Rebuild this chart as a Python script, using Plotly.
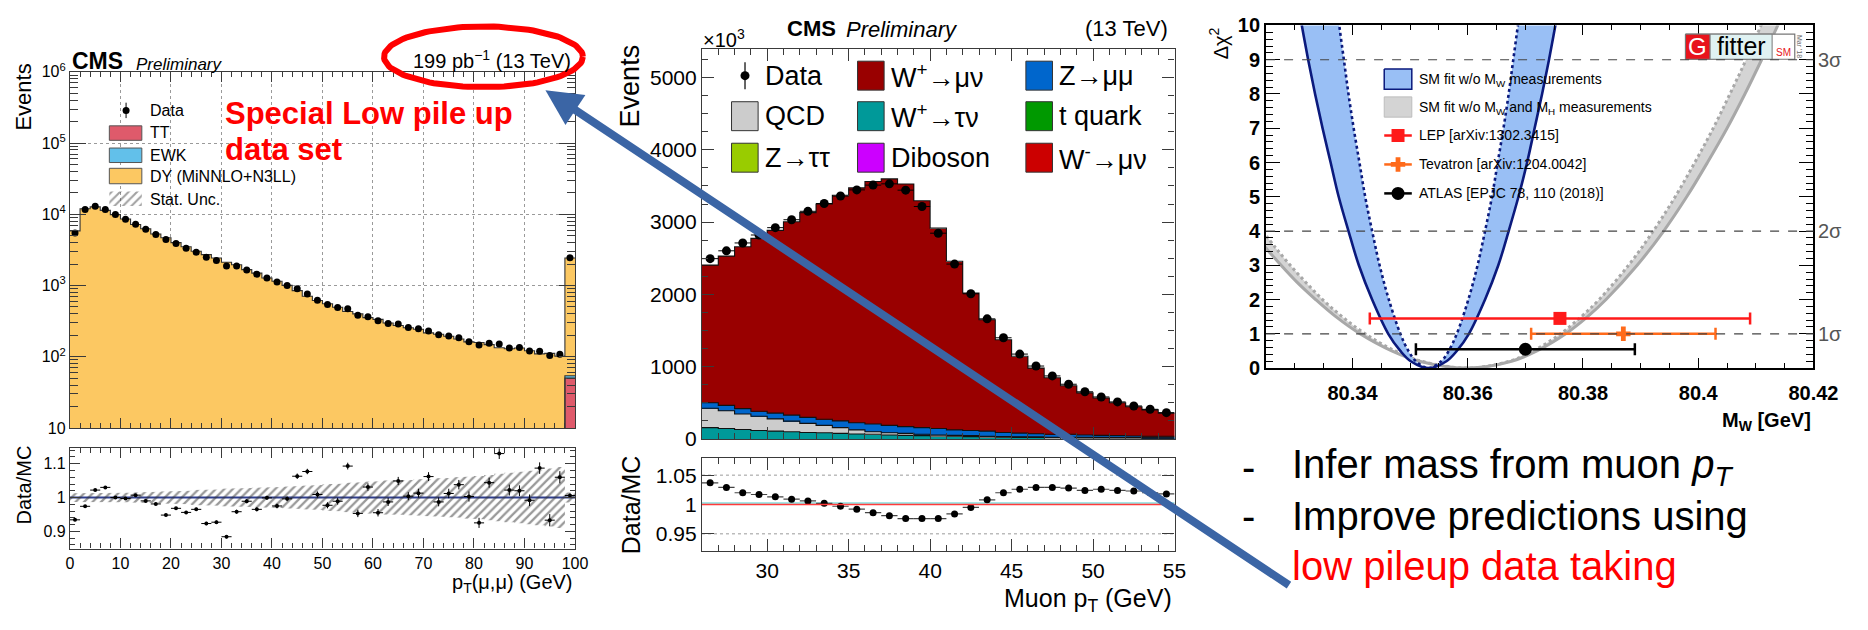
import math
import plotly.graph_objects as go

W, H = 1868, 630
FONT = "Liberation Sans, Arial, Helvetica, sans-serif"


def px(x):
    return x / W


def py(y):
    return 1 - y / H


# ---------------- Z -> mumu pT, low pile-up run ----------------
zpt_centers = list(range(1, 100, 2))
zpt_data = [5460, 11660, 12950, 11660, 9890, 8540, 7230, 6180, 5180, 4430,
            3870, 3340, 2920, 2500, 2250, 1870, 1870, 1650, 1440, 1270,
            1120, 1000, 900, 760, 620, 540, 490, 470, 381, 365,
            319, 293, 288, 256, 246, 229, 204, 196, 184, 162,
            146, 154, 151, 132, 135, 120, 119, 104, 108, 2450]
zpt_ratio = [0.934, 0.974, 1.022, 1.030, 1.000, 0.997, 1.007, 0.990, 0.981, 0.948,
             0.968, 0.956, 0.965, 0.923, 0.927, 0.884, 0.958, 0.989, 0.965, 0.999,
             0.975, 0.996, 1.063, 1.077, 1.009, 0.977, 0.989, 1.093, 0.953, 1.031,
             0.955, 0.987, 1.049, 1.004, 1.013, 1.062, 0.987, 1.012, 1.038, 1.003,
             0.925, 1.044, 1.130, 1.022, 1.020, 0.992, 1.087, 0.933, 1.060, 1.006]
zpt_ratio_err = [0.004, 0.003, 0.003, 0.003, 0.003, 0.003, 0.003, 0.004, 0.004, 0.004,
                 0.004, 0.004, 0.005, 0.005, 0.005, 0.005, 0.006, 0.006, 0.006, 0.006,
                 0.007, 0.007, 0.008, 0.008, 0.009, 0.009, 0.010, 0.010, 0.011, 0.011,
                 0.011, 0.012, 0.012, 0.012, 0.013, 0.013, 0.013, 0.014, 0.014, 0.015,
                 0.015, 0.015, 0.016, 0.016, 0.016, 0.017, 0.017, 0.018, 0.018, 0.006]
zpt_stat_unc = [0.013, 0.012, 0.012, 0.012, 0.013, 0.014, 0.015, 0.016, 0.017, 0.018,
                0.019, 0.020, 0.022, 0.023, 0.024, 0.026, 0.027, 0.028, 0.029, 0.030,
                0.031, 0.032, 0.034, 0.035, 0.037, 0.039, 0.041, 0.043, 0.045, 0.047,
                0.048, 0.050, 0.051, 0.052, 0.054, 0.055, 0.057, 0.058, 0.060, 0.062,
                0.064, 0.067, 0.070, 0.073, 0.076, 0.079, 0.082, 0.086, 0.090, 0.015]
zpt_tt = [0.5, 0.8, 1.0, 1.2, 1.4, 1.5, 1.6, 1.7, 1.8, 1.9,
          2.0, 2.0, 2.1, 2.1, 2.2, 2.2, 2.2, 2.3, 2.3, 2.3,
          2.3, 2.3, 2.3, 2.3, 2.3, 2.3, 2.2, 2.2, 2.2, 2.2,
          2.1, 2.1, 2.1, 2.0, 2.0, 2.0, 1.9, 1.9, 1.9, 1.8,
          1.8, 1.8, 1.7, 1.7, 1.7, 1.6, 1.6, 1.6, 1.5, 50.0]
zpt_ewk = [3.0, 3.5, 3.8, 3.6, 3.4, 3.2, 3.0, 2.8, 2.7, 2.6,
           2.4, 2.3, 2.2, 2.1, 2.0, 1.9, 1.8, 1.7, 1.6, 1.6,
           1.5, 1.4, 1.4, 1.3, 1.3, 1.2, 1.2, 1.1, 1.1, 1.0,
           1.0, 1.0, 0.9, 0.9, 0.9, 0.8, 0.8, 0.8, 0.7, 0.7,
           0.7, 0.7, 0.6, 0.6, 0.6, 0.6, 0.5, 0.5, 0.5, 4.0]
zpt_xticks = [0, 10, 20, 30, 40, 50, 60, 70, 80, 90, 100]

# ---------------- W+ -> mu nu, muon pT ----------------
mupt_centers = [26.5 + i for i in range(29)]
wplus_munu = [1905, 2065, 2239, 2390, 2528, 2675, 2831, 2977, 3120, 3250,
              3355, 3409, 3356, 3137, 2772, 2332, 1901, 1540, 1282, 1063,
              908, 783, 672, 582, 516, 454, 405, 365, 320]
z_mumu = [76, 75, 75, 71, 80, 84, 84, 85, 93, 97,
          107, 102, 93, 93, 89, 76, 71, 71, 58, 53,
          44, 40, 40, 32, 29, 26, 22, 20, 21]
qcd = [267, 245, 214, 196, 169, 147, 125, 102, 80, 58,
       35, 31, 27, 18, 14, 13, 14, 9, 8, 6,
       9, 7, 8, 8, 7, 7, 7, 6, 6]
wplus_taunu = [149, 136, 123, 110, 101, 92, 84, 80, 71, 62,
               58, 49, 45, 41, 36, 32, 27, 23, 19, 18,
               15, 13, 12, 11, 10, 9, 8, 7, 6]
wminus_munu = [1, 1, 1, 1, 1, 1, 1, 1, 1, 1,
               1, 1, 1, 1, 1, 1, 1, 1, 1, 1,
               1, 1, 1, 1, 1, 1, 1, 1, 1]
ztautau = [4, 4, 3, 3, 3, 3, 2, 2, 2, 2,
           2, 2, 1, 1, 1, 1, 1, 1, 1, 1,
           1, 1, 1, 1, 1, 1, 1, 1, 1]
tquark = [3, 3, 3, 3, 3, 3, 3, 3, 3, 3,
          3, 3, 3, 3, 3, 3, 3, 3, 3, 2,
          2, 2, 2, 2, 2, 2, 2, 2, 2]
diboson = [1, 1, 1, 1, 1, 1, 1, 1, 1, 1,
           1, 1, 1, 1, 1, 1, 1, 1, 1, 1,
           1, 1, 1, 1, 1, 1, 1, 1, 1]
mupt_ratio = [1.037, 1.029, 1.020, 1.017, 1.013, 1.009, 1.006, 1.002, 0.997, 0.992,
              0.986, 0.981, 0.976, 0.976, 0.976, 0.984, 0.995, 1.008, 1.020, 1.026,
              1.029, 1.029, 1.028, 1.024, 1.026, 1.024, 1.023, 1.020, 1.018]
mupt_yticks = [0, 1000, 2000, 3000, 4000, 5000]
mupt_xticks = [30, 35, 40, 45, 50, 55]
mupt_ratio_grid = [0.95, 1.05]

# ---------------- Gfitter: delta chi2 vs MW ----------------
blue_solid_d = [11, 10, 9, 8, 7, 6, 5, 4, 3, 2, 1, 0.5, 0.2, 0,
                0.2, 0.5, 1, 2, 3, 4, 5, 6, 7, 8, 9, 10, 11]
blue_solid_m = [80.3301, 80.3312, 80.3323, 80.3335, 80.3348, 80.3362, 80.3376, 80.3393,
                80.3411, 80.3434, 80.3462, 80.3483, 80.3501, 80.3532,
                80.3563, 80.3581, 80.3602, 80.3630, 80.3653, 80.3671, 80.3688,
                80.3703, 80.3716, 80.3729, 80.3741, 80.3752, 80.3763]
blue_dot_d = blue_solid_d
blue_dot_m = [80.3370, 80.3377, 80.3385, 80.3393, 80.3402, 80.3412, 80.3422, 80.3434,
              80.3447, 80.3463, 80.3483, 80.3497, 80.3510, 80.3532,
              80.3554, 80.3567, 80.3581, 80.3601, 80.3617, 80.3630, 80.3642,
              80.3652, 80.3662, 80.3671, 80.3679, 80.3687, 80.3695]
gray_solid_d = [4, 3.5, 3, 2.5, 2, 1.5, 1, 0.5, 0.2, 0,
                0.2, 0.5, 1, 1.5, 2, 3, 4, 5, 6, 7, 8, 9, 10, 11]
gray_solid_m = [80.3226, 80.3250, 80.3276, 80.3304, 80.3336, 80.3371, 80.3413, 80.3468,
                80.3516, 80.3600, 80.3676, 80.3720, 80.3770, 80.3808, 80.3840,
                80.3894, 80.3940, 80.3980, 80.4016, 80.4050, 80.4081, 80.4110,
                80.4138, 80.4164]
gray_dot_d = gray_solid_d
gray_dot_m = [80.3244, 80.3267, 80.3292, 80.3319, 80.3348, 80.3382, 80.3422, 80.3474,
              80.3520, 80.3600, 80.3672, 80.3714, 80.3761, 80.3797, 80.3828,
              80.3879, 80.3922, 80.3960, 80.3994, 80.4026, 80.4055, 80.4083,
              80.4109, 80.4134]
meas_names = ["LEP [arXiv:1302.3415]", "Tevatron [arXiv:1204.0042]",
              "ATLAS [EPJC 78, 110 (2018)]"]
meas_mw = [80.376, 80.387, 80.370]
meas_err = [0.033, 0.016, 0.019]
sigma_levels = [1, 4, 9]
sigma_labels = ["1σ", "2σ", "3σ"]
mw_ticks = [80.34, 80.36, 80.38, 80.40, 80.42]
mw_ticktext = ["80.34", "80.36", "80.38", "80.4", "80.42"]

# ---------------- colours ----------------
C_DY, C_TT, C_EWK = "#fcc862", "#df5a6b", "#62c0ea"
C_WMU, C_ZMUMU, C_QCD, C_WTAU = "#990000", "#0066cc", "#cccccc", "#009999"
C_TQ, C_ZTT, C_VV, C_WMINUS = "#009900", "#99cc00", "#cc00ff", "#cc0000"
C_BLUEFILL, C_NAVY = "#99bff5", "#0b1a7d"
C_GRAYFILL, C_GRAYLINE = "#d4d4d4", "#a8a8a8"
AXC = "#3a3a3a"

fig = go.Figure()


def steps(centers, vals, width):
    xs = [c - width / 2 for c in centers] + [centers[-1] + width / 2]
    ys = list(vals) + [vals[-1]]
    return xs, ys


# ---- left: stacked Z pT histogram ----
zpt_mc = [d / r for d, r in zip(zpt_data, zpt_ratio)]
zpt_dy = [m - t - e for m, t, e in zip(zpt_mc, zpt_tt, zpt_ewk)]
for vals, col in [(zpt_tt, C_TT), (zpt_ewk, C_EWK), (zpt_dy, C_DY)]:
    fig.add_trace(go.Bar(x=zpt_centers, y=vals, width=2, marker=dict(color=col, line=dict(width=0)),
                         xaxis="x", yaxis="y", hoverinfo="skip"))
zpt_low = [t + e for t, e in zip(zpt_tt, zpt_ewk)]
for lvl in (zpt_tt, zpt_low, zpt_mc):
    sx, sy = steps(zpt_centers, lvl, 2)
    fig.add_trace(go.Scatter(x=sx, y=sy, mode="lines", line=dict(color="#333", width=1.1, shape="hv"),
                             xaxis="x", yaxis="y", hoverinfo="skip"))
fig.add_trace(go.Scatter(
    x=zpt_centers, y=zpt_data, mode="markers", xaxis="x", yaxis="y",
    marker=dict(color="black", size=7),
    error_y=dict(type="data", array=[e * m for e, m in zip(zpt_ratio_err, zpt_mc)],
                 color="black", thickness=1, width=0)))

# ---- left: ratio ----
bx, by = [], []
for c, u in zip(zpt_centers, zpt_stat_unc):
    bx += [c - 1, c + 1]
    by += [1 + u, 1 + u]
lx, ly = [], []
for c, u in zip(reversed(zpt_centers), reversed(zpt_stat_unc)):
    lx += [c + 1, c - 1]
    ly += [1 - u, 1 - u]
fig.add_trace(go.Scatter(
    x=bx + lx, y=by + ly, mode="lines", fill="toself", line=dict(width=0),
    fillcolor="rgba(0,0,0,0)",
    fillpattern=dict(shape="/", fgcolor="#333333", bgcolor="rgba(0,0,0,0)", size=6, solidity=0.38),
    xaxis="x2", yaxis="y2", hoverinfo="skip"))
fig.add_shape(type="line", xref="x2 domain", yref="y2", x0=0, x1=1, y0=1, y1=1,
              line=dict(color="#2f3e8f", width=2), layer="below")
fig.add_trace(go.Scatter(
    x=zpt_centers, y=zpt_ratio, mode="markers", xaxis="x2", yaxis="y2",
    marker=dict(color="black", size=4),
    error_x=dict(type="constant", value=1, color="black", thickness=1, width=0),
    error_y=dict(type="data", array=zpt_ratio_err, color="black", thickness=1, width=0)))

# ---- middle: stacked muon pT histogram ----
stack = [(diboson, C_VV), (tquark, C_TQ), (ztautau, C_ZTT), (wminus_munu, C_WMINUS),
         (wplus_taunu, C_WTAU), (qcd, C_QCD), (z_mumu, C_ZMUMU), (wplus_munu, C_WMU)]
cum = [0] * len(mupt_centers)
levels = []
for vals, col in stack:
    fig.add_trace(go.Bar(x=mupt_centers, y=vals, width=1, marker=dict(color=col, line=dict(width=0)),
                         xaxis="x3", yaxis="y3", hoverinfo="skip"))
    cum = [a + b for a, b in zip(cum, vals)]
    levels.append(cum)
mupt_total = levels[-1]
for lvl in levels[4:]:
    sx, sy = steps(mupt_centers, lvl, 1)
    fig.add_trace(go.Scatter(x=sx, y=sy, mode="lines", line=dict(color="#111", width=1.1, shape="hv"),
                             xaxis="x3", yaxis="y3", hoverinfo="skip"))
mupt_data = [t * r for t, r in zip(mupt_total, mupt_ratio)]
fig.add_trace(go.Scatter(
    x=mupt_centers, y=mupt_data, mode="markers", xaxis="x3", yaxis="y3",
    marker=dict(color="black", size=9),
    error_x=dict(type="constant", value=0.5, color="black", thickness=1, width=0)))

# ---- middle: ratio ----
for g in mupt_ratio_grid:
    fig.add_shape(type="line", xref="x4 domain", yref="y4", x0=0, x1=1, y0=g, y1=g,
                  line=dict(color="#9a9a9a", width=1, dash="dot"), layer="below")
fig.add_shape(type="line", xref="x4 domain", yref="y4", x0=0, x1=1, y0=1.0025, y1=1.0025,
              line=dict(color="#44cccc", width=1), layer="below")
fig.add_shape(type="line", xref="x4 domain", yref="y4", x0=0, x1=1, y0=1, y1=1,
              line=dict(color="#ff3b3b", width=1.6), layer="above")
fig.add_trace(go.Scatter(
    x=mupt_centers, y=mupt_ratio, mode="markers", xaxis="x4", yaxis="y4",
    marker=dict(color="black", size=7),
    error_x=dict(type="constant", value=0.5, color="#444", thickness=1.2, width=0)))

# ---- right: Gfitter scan ----
fig.add_trace(go.Scatter(
    x=gray_solid_m + gray_dot_m[::-1], y=gray_solid_d + gray_dot_d[::-1],
    mode="lines", fill="toself", fillcolor=C_GRAYFILL, line=dict(width=0, shape="spline"),
    xaxis="x5", yaxis="y5", hoverinfo="skip"))
fig.add_trace(go.Scatter(x=gray_dot_m, y=gray_dot_d, mode="lines",
                         line=dict(color=C_GRAYLINE, width=3, dash="dot", shape="spline"),
                         xaxis="x5", yaxis="y5", hoverinfo="skip"))
fig.add_trace(go.Scatter(x=gray_solid_m, y=gray_solid_d, mode="lines",
                         line=dict(color=C_GRAYLINE, width=3, shape="spline"),
                         xaxis="x5", yaxis="y5", hoverinfo="skip"))
fig.add_trace(go.Scatter(
    x=blue_solid_m + blue_dot_m[::-1], y=blue_solid_d + blue_dot_d[::-1],
    mode="lines", fill="toself", fillcolor=C_BLUEFILL, line=dict(width=0, shape="spline"),
    xaxis="x5", yaxis="y5", hoverinfo="skip"))
fig.add_trace(go.Scatter(x=blue_dot_m, y=blue_dot_d, mode="lines",
                         line=dict(color=C_NAVY, width=2.6, dash="dot", shape="spline"),
                         xaxis="x5", yaxis="y5", hoverinfo="skip"))
fig.add_trace(go.Scatter(x=blue_solid_m, y=blue_solid_d, mode="lines",
                         line=dict(color=C_NAVY, width=2.6, shape="spline"),
                         xaxis="x5", yaxis="y5", hoverinfo="skip"))
for lvl in sigma_levels:
    fig.add_shape(type="line", xref="x5 domain", yref="y5", x0=0, x1=1, y0=lvl, y1=lvl,
                  line=dict(color="#444", width=1.2, dash="dash"), layer="above")

meas_style = [dict(color="#ff1a1a", symbol="square", size=13, row=1.45),
              dict(color="#ff6a1a", symbol="cross", size=12, row=1.0),
              dict(color="black", symbol="circle", size=13, row=0.55)]
for mw, err, st in zip(meas_mw, meas_err, meas_style):
    fig.add_trace(go.Scatter(
        x=[mw], y=[st["row"]], mode="markers", xaxis="x5", yaxis="y5",
        marker=dict(color=st["color"], symbol=st["symbol"], size=st["size"]),
        error_x=dict(type="constant", value=err, color=st["color"], thickness=2.5, width=6)))


# ---- pixel-space overlay for legend glyphs, boxes and the highlight ellipse ----
def pix(x, y, **kw):
    fig.add_trace(go.Scatter(x=x, y=y, xaxis="x6", yaxis="y6", hoverinfo="skip", **kw))


def box(x0, y0, x1, y1, fill, line_color=None, lw=1.0):
    pix([x0, x1, x1, x0, x0], [y0, y0, y1, y1, y0], mode="lines", fill="toself",
        fillcolor=fill, line=dict(color=line_color or fill, width=lw if line_color else 0))


pix([124], [103], mode="markers", marker=dict(color="black", size=7),
    error_y=dict(type="constant", value=8, color="black", thickness=1, width=0))
pix([107, 140, 140, 107, 107], [187, 187, 202, 202, 187], mode="lines", fill="toself",
    line=dict(width=0), fillcolor="rgba(0,0,0,0)",
    fillpattern=dict(shape="/", fgcolor="#444", bgcolor="rgba(0,0,0,0)", size=6, solidity=0.35))
pix([752.7], [67], mode="markers", marker=dict(color="black", size=9),
    error_y=dict(type="constant", value=14, color="black", thickness=1.2, width=0))
for st, yy in zip(meas_style, [129, 159, 189]):
    pix([1402, 1430], [yy, yy], mode="lines", line=dict(color=st["color"], width=2.5))
    pix([1416], [yy], mode="markers", marker=dict(color=st["color"], symbol=st["symbol"], size=st["size"]))

# left legend boxes
box(107, 119, 140, 134, C_TT, "#555")
box(107, 142, 140, 157, C_EWK, "#555")
box(107, 163, 140, 179, C_DY, "#555")

# middle legend boxes
mid_leg = [
    (None, "Data", 739, 67), (C_WMU, "W<sup>+</sup>→μν", 867, 67), (C_ZMUMU, "Z→μμ", 1038, 67),
    (C_QCD, "QCD", 739, 109), (C_WTAU, "W<sup>+</sup>→τν", 867, 109), (C_TQ, "t quark", 1038, 109),
    (C_ZTT, "Z→ττ", 739, 152), (C_VV, "Diboson", 867, 152), (C_WMINUS, "W<sup>-</sup>→μν", 1038, 152),
]
for col, s, x0, yc in mid_leg:
    if col:
        box(x0, yc - 15, x0 + 27, yc + 15, col, "#333")

# right legend boxes and Gfitter logo
box(1402, 60, 1430, 81, C_BLUEFILL, C_NAVY, 1.5)
box(1402, 89, 1430, 110, C_GRAYFILL, "#bdbdbd", 1.0)
box(1708, 24, 1819, 50, "white", "#777", 1.2)
box(1708, 24, 1733, 50, "#e8141c", "#777", 1.0)
box(1733, 24, 1796, 50, "#e0f2f2", "#777", 1.0)

# red highlight ellipse round the luminosity label
ell_t = [2 * math.pi * i / 120 for i in range(121)]
pix([487 + 101 * math.cos(t) for t in ell_t], [47.5 + 31.5 * math.sin(t) for t in ell_t],
    mode="lines", line=dict(color="#ff0000", width=6))


# ---- text helper ----
def text(x, y, s, size, color="black", xanchor="left", yanchor="middle",
         bold=False, italic=False, angle=0):
    fig.add_annotation(x=px(x), y=py(y), xref="paper", yref="paper", text=s, showarrow=False,
                       xanchor=xanchor, yanchor=yanchor, textangle=angle,
                       font=dict(family=FONT, size=size, color=color,
                                 weight="bold" if bold else "normal",
                                 style="italic" if italic else "normal"))


# left panel texts and legend
text(67, 52, "CMS", 23, bold=True)
text(132, 55, "Preliminary", 17, italic=True)
text(578, 50, "199 pb<sup>−1</sup> (13 TeV)", 20, xanchor="right")
text(20, 89, "Events", 22, xanchor="center", angle=-90)
text(20, 491, "Data/MC", 20, xanchor="center", angle=-90)
text(580, 593, "p<sub>T</sub>(μ,μ) (GeV)", 20, xanchor="right")
for s, yy in [("Data", 103), ("TT", 126), ("EWK", 150), ("DY (MiNNLO+N3LL)", 171), ("Stat. Unc.", 195)]:
    text(146, yy, s, 16)
text(222, 106, "Special Low pile up", 31, color="#ff0000", bold=True)
text(222, 143, "data set", 31, color="#ff0000", bold=True)

# middle panel texts and legend
text(793, 18, "CMS", 22, bold=True)
text(853, 19, "Preliminary", 22, italic=True)
text(1184, 18, "(13 TeV)", 22, xanchor="right")
text(708, 28, "×10<sup>3</sup>", 20)
text(636, 78, "Events", 27, xanchor="center", angle=-90)
text(637, 512, "Data/MC", 25, xanchor="center", angle=-90)
text(1188, 610, "Muon p<sub>T</sub> (GeV)", 25, xanchor="right")
for col, s, x0, yc in mid_leg:
    text(x0 + 32, yc, s, 27)

# right panel texts, legend and logo
text(1234, 15, "Δχ<sup>2</sup>", 20, xanchor="center", yanchor="top", angle=-90)
text(1838, 425, "M<sub>W</sub> [GeV]", 20, xanchor="right", bold=True)
for lvl, lab in zip(sigma_levels, sigma_labels):
    text(1841, 370 - 35.5 * lvl, lab, 20, color="#555")
text(1435, 71, "SM fit w/o M<sub>W</sub> measurements", 14)
text(1435, 100, "SM fit w/o M<sub>W</sub> and M<sub>H</sub> measurements", 14)
for s, yy in zip(meas_names, [129, 159, 189]):
    text(1435, yy, s, 14)
text(1720.5, 37, "G", 24, color="white", xanchor="center")
text(1764.5, 36, "fitter", 25, xanchor="center")
text(1808, 43, "SM", 10, color="#e8141c", xanchor="center")
text(1824, 37, "Mar '18", 7, color="#666", xanchor="center", angle=90)

# bullet text
text(1264, 473, "-", 40, xanchor="center")
text(1264, 523, "-", 40, xanchor="center")
text(1306, 473, "Infer mass from muon <i>p<sub>T</sub></i>", 40)
text(1306, 523, "Improve predictions using", 40)
text(1306, 575, "low pileup data taking", 40, color="#ff0000")

# pointer from the bullet text to the luminosity label
fig.add_annotation(x=px(550), y=py(82), xref="paper", yref="paper", text="",
                   showarrow=True, ax=745, ay=496, axref="pixel", ayref="pixel",
                   arrowhead=2, arrowsize=0.9, arrowwidth=8, arrowcolor="#3b65a5", standoff=0)

# ---- axes ----
AX = dict(showline=True, linecolor=AXC, linewidth=1.2, mirror="allticks", ticks="inside",
          tickcolor=AXC, zeroline=False, showgrid=False, fixedrange=True)
GRID = dict(showgrid=True, griddash="dot", gridcolor="#9a9a9a", gridwidth=1)
log_minor = [m * 10 ** k for k in range(1, 6) for m in range(2, 10)]

fig.update_layout(
    width=W, height=H, autosize=False, margin=dict(l=0, r=0, t=0, b=0),
    paper_bgcolor="white", plot_bgcolor="rgba(0,0,0,0)",
    barmode="stack", bargap=0, showlegend=False,
    font=dict(family=FONT, color="black"),
    xaxis=dict(AX, **GRID, domain=[px(67), px(580)], range=[0, 100], anchor="y",
               tickvals=zpt_xticks, ticklen=10, showticklabels=False,
               minor=dict(ticks="inside", dtick=2, tick0=0, ticklen=5, tickcolor=AXC)),
    yaxis=dict(AX, **GRID, domain=[py(432), py(63)], type="log", range=[1, 6], anchor="x",
               tickvals=[10, 1e2, 1e3, 1e4, 1e5, 1e6],
               ticktext=["10", "10<sup>2</sup>", "10<sup>3</sup>", "10<sup>4</sup>",
                         "10<sup>5</sup>", "10<sup>6</sup>"],
               ticklen=16, tickfont=dict(size=16),
               minor=dict(ticks="inside", tickvals=log_minor, ticklen=8, tickcolor=AXC)),
    xaxis2=dict(AX, domain=[px(67), px(580)], range=[0, 100], anchor="y2",
                tickvals=zpt_xticks, ticklen=10, tickfont=dict(size=16),
                minor=dict(ticks="inside", dtick=2, tick0=0, ticklen=5, tickcolor=AXC)),
    yaxis2=dict(AX, domain=[py(557), py(453)], range=[0.849, 1.146], anchor="x2",
                tickvals=[0.9, 1.0, 1.1], ticktext=["0.9", "1", "1.1"], ticklen=10,
                tickfont=dict(size=16),
                minor=dict(ticks="inside", dtick=0.02, tick0=0.9, ticklen=5, tickcolor=AXC)),
    xaxis3=dict(AX, domain=[px(709), px(1189)], range=[26, 55], anchor="y3",
                tickvals=mupt_xticks, ticklen=12, showticklabels=False,
                minor=dict(ticks="inside", dtick=1, tick0=26, ticklen=6, tickcolor=AXC)),
    yaxis3=dict(AX, domain=[py(443.5), py(39)], range=[0, 5400], anchor="x3",
                tickvals=mupt_yticks, ticklen=12, tickfont=dict(size=21),
                minor=dict(ticks="inside", dtick=250, tick0=0, ticklen=6, tickcolor=AXC)),
    xaxis4=dict(AX, domain=[px(709), px(1189)], range=[26, 55], anchor="y4",
                tickvals=mupt_xticks, ticklen=12, tickfont=dict(size=21),
                minor=dict(ticks="inside", dtick=1, tick0=26, ticklen=6, tickcolor=AXC)),
    yaxis4=dict(AX, domain=[py(560), py(462.7)], range=[0.92, 1.08], anchor="x4",
                tickvals=[0.95, 1.0, 1.05], ticktext=["0.95", "1", "1.05"], ticklen=12,
                tickfont=dict(size=21)),
    xaxis5=dict(AX, domain=[px(1282), px(1838)], range=[80.325, 80.42], anchor="y5",
                linecolor="black", linewidth=2, tickcolor="black",
                tickvals=mw_ticks, ticktext=mw_ticktext, ticklen=10, ticklabelstandoff=6,
                tickfont=dict(size=20, weight="bold"),
                minor=dict(ticks="inside", dtick=0.005, tick0=80.34, ticklen=5, tickcolor="black")),
    yaxis5=dict(AX, domain=[py(370), py(15)], range=[0, 10], anchor="x5",
                linecolor="black", linewidth=2, tickcolor="black",
                dtick=1, tick0=0, ticklen=14, tickfont=dict(size=20, weight="bold"),
                minor=dict(ticks="inside", dtick=0.2, tick0=0, ticklen=7, tickcolor="black")),
    xaxis6=dict(domain=[0, 1], range=[0, W], visible=False, fixedrange=True, anchor="y6"),
    yaxis6=dict(domain=[0, 1], range=[H, 0], visible=False, fixedrange=True, anchor="x6"),
)

# fixed-size page: the figure keeps its own width rather than following the window
fig.write_html("out.html", config={"responsive": False})
